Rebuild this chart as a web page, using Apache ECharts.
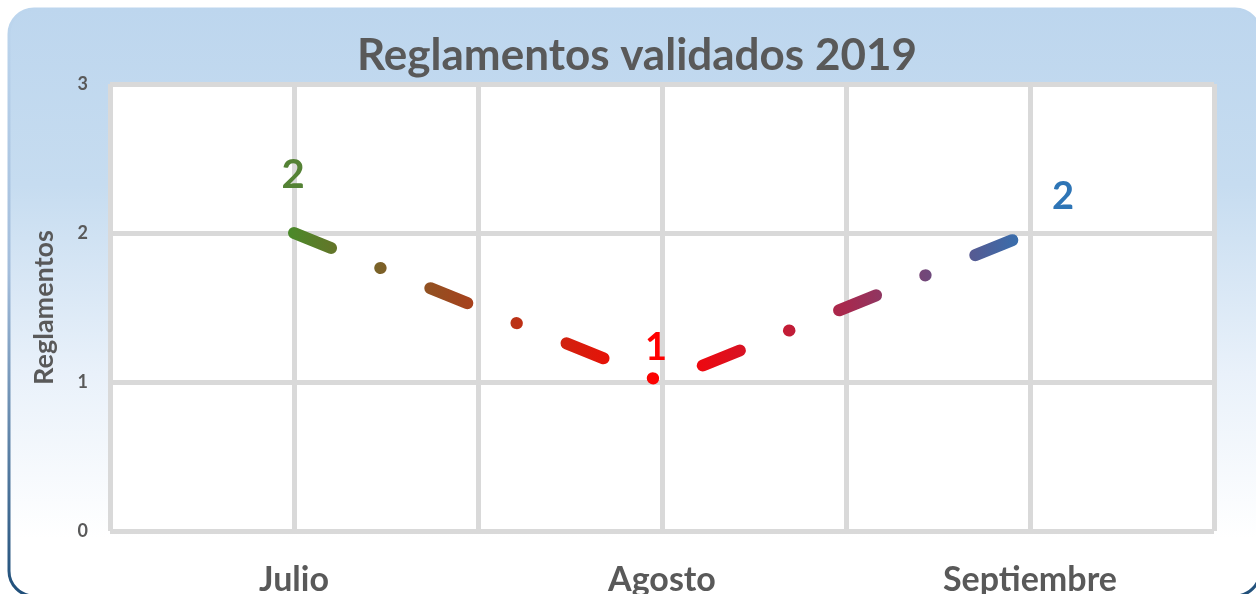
<!DOCTYPE html>
<html>
<head>
<meta charset="utf-8">
<script src="https://cdn.jsdelivr.net/npm/echarts@6/dist/echarts.min.js"></script>
<style>
  html, body { margin: 0; padding: 0; background: #fff; }
  #chart { width: 1256px; height: 594px; }
</style>
</head>
<body>
<div id="chart"></div>
<script>
var months = ['Julio', 'Agosto', 'Septiembre'];
var reglamentos = [2, 1, 2];
var yTicks = [0, 1, 2, 3];

var myChart = echarts.init(document.getElementById('chart'));

var gridColor = '#d9d9d9';
var textColor = '#595959';
var font = 'Lato';

// colour, size and placement of each point's value label
var labelStyles = [
    { color: '#548235', fontSize: 40, offset: [-1, -58] },
    { color: '#ff0000', fontSize: 38, offset: [-6, -34] },
    { color: '#2e75b6', fontSize: 38, offset: [33, -36] }
];

var seriesData = reglamentos.map(function (v, i) {
    var s = labelStyles[i];
    return {
        value: v,
        label: {
            show: true,
            position: 'inside',
            offset: s.offset,
            color: s.color,
            fontSize: s.fontSize,
            fontWeight: 'bold',
            fontFamily: font
        }
    };
});

const option = {
    animation: false,
    graphic: {
        elements: [{
            type: 'rect',
            z: -10,
            silent: true,
            shape: { x: 9, y: 9, width: 1251, height: 587, r: 25 },
            style: {
                fill: new echarts.graphic.LinearGradient(0, 0, 0, 1, [
                    { offset: 0, color: '#bdd6ee' },
                    { offset: 0.3, color: '#c6dcf0' },
                    { offset: 0.62, color: '#e9f1fa' },
                    { offset: 0.9, color: '#ffffff' },
                    { offset: 1, color: '#ffffff' }
                ]),
                stroke: new echarts.graphic.LinearGradient(0, 0, 0, 1, [
                    { offset: 0, color: '#bdd6ee' },
                    { offset: 0.45, color: '#a3bddb' },
                    { offset: 1, color: '#1f4e79' }
                ]),
                lineWidth: 3
            }
        }]
    },
    title: {
        text: 'Reglamentos validados 2019',
        left: 632,
        textAlign: 'center',
        top: 29,
        textStyle: {
            color: textColor,
            fontSize: 44,
            fontWeight: 'bold',
            fontFamily: font
        }
    },
    grid: {
        left: 110,
        right: 42,
        top: 84,
        bottom: 63,
        outerBoundsMode: 'none',
        show: true,
        backgroundColor: '#ffffff',
        borderWidth: 0
    },
    xAxis: {
        type: 'category',
        data: months,
        axisLine: { show: false },
        axisTick: {
            show: true,
            alignWithLabel: true,
            inside: true,
            interval: 0,
            length: 447,
            lineStyle: { color: gridColor, width: 5 }
        },
        splitLine: {
            show: true,
            interval: 0,
            lineStyle: { color: gridColor, width: 5 }
        },
        axisLabel: {
            margin: 32,
            color: textColor,
            fontSize: 34,
            fontWeight: 'bold',
            fontFamily: font
        }
    },
    yAxis: {
        type: 'value',
        min: yTicks[0],
        max: yTicks[yTicks.length - 1],
        interval: 1,
        name: 'Reglamentos',
        nameLocation: 'middle',
        nameGap: 52,
        nameTextStyle: {
            color: textColor,
            fontSize: 27,
            fontWeight: 'bold',
            fontFamily: font
        },
        axisLine: { show: false },
        axisTick: { show: false },
        splitLine: { lineStyle: { color: gridColor, width: 5 } },
        axisLabel: {
            margin: 22,
            color: textColor,
            fontSize: 18,
            fontWeight: 'bold',
            fontFamily: font
        }
    },
    series: [
        {
            type: 'line',
            data: seriesData,
            symbol: 'circle',
            symbolSize: 1,
            itemStyle: { color: 'rgba(0,0,0,0)' },
            lineStyle: {
                width: 12,
                type: [40, 53, 0.5, 53.5],
                cap: 'round',
                join: 'round',
                color: new echarts.graphic.LinearGradient(0, 0, 1, 0, [
                    { offset: 0, color: '#4a8a2a' },
                    { offset: 0.12, color: '#7a6228' },
                    { offset: 0.25, color: '#a8401c' },
                    { offset: 0.5, color: '#ff0000' },
                    { offset: 0.75, color: '#a52a50' },
                    { offset: 0.86, color: '#6e4a7c' },
                    { offset: 1, color: '#2e75b6' }
                ])
            },
            emphasis: { disabled: true }
        }
    ]
};
myChart.setOption(option);
</script>
</body>
</html>
